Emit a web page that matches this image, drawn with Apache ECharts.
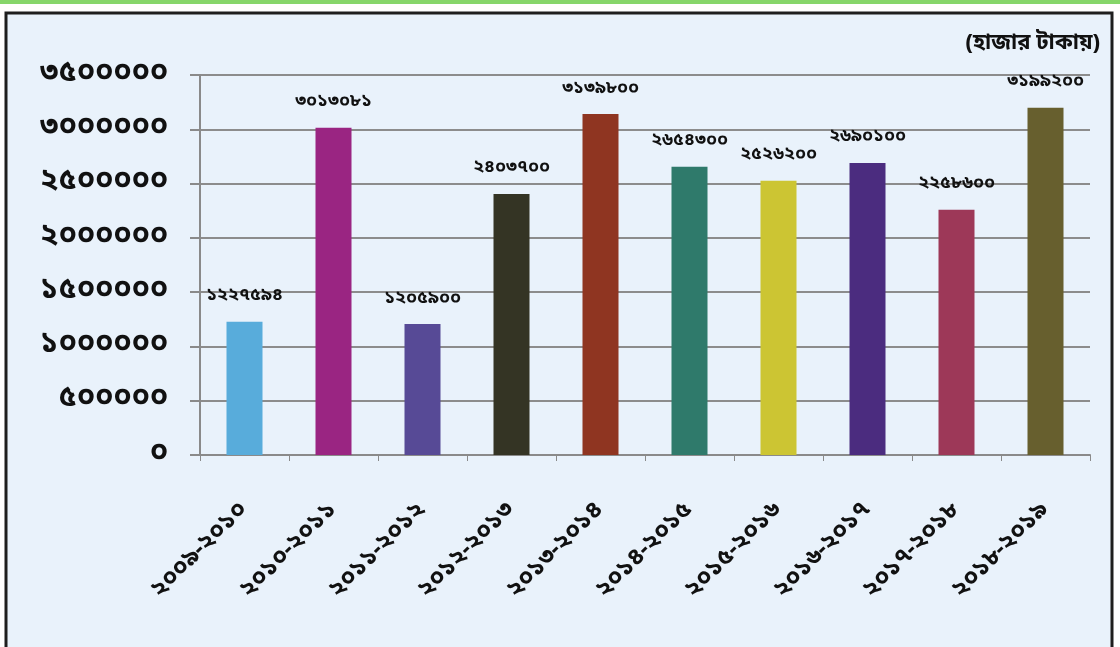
<!DOCTYPE html>
<html>
<head>
<meta charset="utf-8">
<script src="https://cdn.jsdelivr.net/npm/echarts@6/dist/echarts.min.js"></script>
<style>
html,body{margin:0;padding:0;background:#ffffff;}
#chart{width:1120px;height:647px;}
</style>
</head>
<body>
<div id="chart"></div>
<script>
const categories = ['২০০৯-২০১০','২০১০-২০১১','২০১১-২০১২','২০১২-২০১৩','২০১৩-২০১৪','২০১৪-২০১৫','২০১৫-২০১৬','২০১৬-২০১৭','২০১৭-২০১৮','২০১৮-২০১৯'];
const values = [1227594, 3013081, 1205900, 2403700, 3139800, 2654300, 2526200, 2690100, 2258600, 3199200];
const barColors = ['#58acdb','#9a2582','#574a96','#343424','#8f3521','#2f7a6b','#ccc533','#4b2c7f','#9d3858','#675f2e'];
const unitLabel = '(হাজার টাকায়)';
const yMin = 0, yMax = 3500000, yInterval = 500000;

const bnDigits = ['০','১','২','৩','৪','৫','৬','৭','৮','৯'];
function toBn(n){ return String(n).replace(/[0-9]/g, d => bnDigits[+d]); }

const chart = echarts.init(document.getElementById('chart'));
const bnFont = '"Noto Sans Bengali","Lohit Bengali","Noto Serif Bengali","Mukti","FreeSerif",sans-serif';
chart.setOption({
  backgroundColor: '#ffffff',
  animation: false,
  graphic: [
    {type:'rect', shape:{x:0,y:0,width:1120,height:4}, style:{fill:'#86d66a'}, z:-10},
    {type:'rect', shape:{x:6,y:13,width:1106,height:640}, style:{fill:'#e9f2fb', stroke:'#1e1e1e', lineWidth:3}, z:-9},
    {type:'text', right: 20, top: 34, style:{text: unitLabel, font:'bold 22px ' + bnFont, fill:'#111'}}
  ],
  grid: {left: 200, right: 30, top: 75, bottom: 192, containLabel: false},
  xAxis: {
    type: 'category',
    data: categories,
    axisLine: {lineStyle:{color:'#8a8a8a', width:2}},
    axisTick: {show:true, length:6, lineStyle:{color:'#8a8a8a'}},
    axisLabel: {rotate:45, fontSize:24, fontWeight:'bold', color:'#111', fontFamily: bnFont, margin: 52},
    splitLine: {show:false}
  },
  yAxis: {
    type: 'value',
    min: yMin, max: yMax, interval: yInterval,
    axisLine: {show:true, lineStyle:{color:'#8a8a8a', width:2}},
    axisTick: {show:true, length:10, lineStyle:{color:'#8a8a8a', width:2}},
    axisLabel: {fontSize:30, fontWeight:'bold', color:'#111', fontFamily: bnFont, margin: 32, formatter: v => toBn(v)},
    splitLine: {show:true, lineStyle:{color:'#8c8c8c', width:2}}
  },
  series: [{
    type: 'bar',
    data: values.map((v,i) => ({value: v, itemStyle:{color: barColors[i]}})),
    barWidth: 36,
    label: {show:true, position:'top', distance: 16, fontSize:18, fontWeight:'bold', color:'#111', fontFamily: bnFont, formatter: p => toBn(p.value)}
  }]
});
</script>
</body>
</html>
